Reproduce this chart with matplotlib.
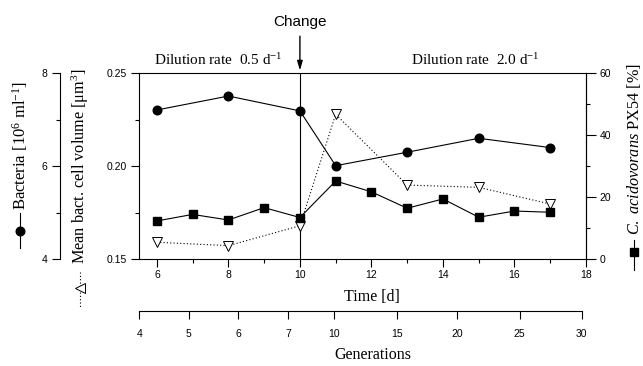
import matplotlib
matplotlib.use("Agg")
import matplotlib.pyplot as plt
from matplotlib.lines import Line2D
from matplotlib.ticker import MultipleLocator

# ---- data ----
time_bact = [6, 8, 10, 11, 13, 15, 17]
bacteria = [7.21, 7.51, 7.19, 6.01, 6.30, 6.60, 6.40]          # 10^6 ml^-1

time_vol = [6, 8, 10, 11, 13, 15, 17]
volume = [0.1590, 0.1572, 0.1679, 0.2279, 0.1898, 0.1886, 0.1796]  # um^3

time_px = [6, 7, 8, 9, 10, 11, 12, 13, 14, 15, 16, 17]
px54 = [12.3, 14.4, 12.6, 16.6, 13.4, 25.2, 21.7, 16.4, 19.4, 13.5, 15.5, 15.1]  # %

time_ticks = [6, 8, 10, 12, 14, 16, 18]
gen_labels = [4, 5, 6, 7, 10, 15, 20, 25, 30]
gen_tick_times = [5.505, 6.895, 8.274, 9.673, 10.951, 12.705, 14.392, 16.145, 17.880]

change_time = 10

SANS = "Liberation Sans"
SERIF = "Liberation Serif"
plt.rcParams["font.family"] = SANS
plt.rcParams["mathtext.fontset"] = "custom"
plt.rcParams["mathtext.rm"] = SERIF
plt.rcParams["mathtext.it"] = SERIF + ":italic"
plt.rcParams["axes.linewidth"] = 0.8

W, H = 643, 366
fig = plt.figure(figsize=(W / 100, H / 100), dpi=100)

L, R, T, B = 139, 586, 73.3, 259
ax = fig.add_axes([L / W, 1 - B / H, (R - L) / W, (B - T) / H])
ax.set_xlim(5.5, 18)
ax.set_ylim(0.15, 0.25)
ax.set_xticks(time_ticks)
ax.xaxis.set_minor_locator(MultipleLocator(1))
ax.set_yticks([0.15, 0.20, 0.25])
ax.set_yticklabels(["0.15", "0.20", "0.25"])
ax.yaxis.set_minor_locator(MultipleLocator(0.025))
ax.tick_params(which="major", direction="out", length=6, width=0.8, labelsize=7.5, pad=2)
ax.tick_params(which="minor", direction="out", length=3, width=0.8)
ax.tick_params(axis="y", which="major", pad=3)
ax.spines["right"].set_visible(True)

# bacteria axis (outer left)
ax_b = ax.twinx()
ax_b.set_ylim(4, 8)
ax_b.yaxis.set_ticks_position("left")
ax_b.yaxis.set_label_position("left")
ax_b.spines["left"].set_position(("outward", 79 * 0.72))
for s in ["right", "top", "bottom"]:
    ax_b.spines[s].set_visible(False)
ax_b.set_yticks([4, 6, 8])
ax_b.yaxis.set_minor_locator(MultipleLocator(1))
ax_b.tick_params(which="major", direction="out", length=6, width=0.8, labelsize=7.5, pad=3)
ax_b.tick_params(which="minor", direction="out", length=3, width=0.8)

# PX54 axis (right)
ax_r = ax.twinx()
ax_r.set_ylim(0, 60)
ax_r.set_yticks([0, 20, 40, 60])
ax_r.yaxis.set_minor_locator(MultipleLocator(10))
for s in ["left", "top", "bottom"]:
    ax_r.spines[s].set_visible(False)
ax_r.tick_params(which="major", direction="out", length=7, width=0.8, labelsize=7.5, pad=3)
ax_r.tick_params(which="minor", direction="out", length=3, width=0.8)

# data
ax_b.plot(time_bact, bacteria, color="black", lw=0.8, marker="o", ms=6.2,
          mfc="black", mec="black", zorder=5)
ax.plot(time_vol, volume, color="black", lw=0.8, ls=(0, (1, 2)), marker="v", ms=6.5,
        mfc="white", mec="black", mew=0.7, zorder=5)
ax_r.plot(time_px, px54, color="black", lw=0.8, marker="s", ms=5.2,
          mfc="black", mec="black", zorder=5)

# change line + arrow
ax.axvline(change_time, color="black", lw=0.8)
ax.annotate("", xy=(change_time, 1.015), xycoords=("data", "axes fraction"),
            xytext=(change_time, 1.20), textcoords=("data", "axes fraction"),
            arrowprops=dict(arrowstyle="-|>,head_length=0.55,head_width=0.16",
                            color="black", lw=1.0, shrinkA=0, shrinkB=0),
            annotation_clip=False)
ax.text(change_time, 1.275, "Change", transform=ax.get_xaxis_transform(),
        ha="center", va="center", fontsize=11, family=SANS)

ax.text(0.1767, 1.072, r"Dilution rate  0.5 d$^{\mathrm{-1}}$", transform=ax.transAxes,
        ha="center", va="center", fontsize=11, family=SERIF)
ax.text(0.752, 1.072, r"Dilution rate  2.0 d$^{\mathrm{-1}}$", transform=ax.transAxes,
        ha="center", va="center", fontsize=11, family=SERIF)

# Time label
ax.text((372 - L) / (R - L), (B - 297) / (B - T), "Time [d]", transform=ax.transAxes,
        ha="center", va="center", fontsize=11.5, family=SERIF)

# generations axis
sec = ax.secondary_xaxis((B - 311) / (B - T))
sec.set_xticks(gen_tick_times)
sec.set_xticklabels([str(g) for g in gen_labels])
sec.tick_params(direction="out", length=6, width=0.8, labelsize=7.5, pad=7)
sec.spines["bottom"].set_bounds(gen_tick_times[0], gen_tick_times[-1])
sec.spines["bottom"].set_linewidth(0.8)
ax.text((373 - L) / (R - L), (B - 355) / (B - T), "Generations", transform=ax.transAxes,
        ha="center", va="center", fontsize=11.5, family=SERIF)

# rotated axis labels with legend keys
fig.text(20 / W, 1 - 145.5 / H, r"Bacteria [10$^{6}$ ml$^{\mathrm{-1}}$]", rotation=90,
         ha="center", va="center", fontsize=12, family=SERIF)
fig.text(80 / W, 1 - 166.5 / H, r"Mean bact. cell volume [$\mathrm{\mu}$m$^{3}$]", rotation=90,
         ha="center", va="center", fontsize=11.7, family=SERIF)
fig.text(634 / W, 1 - 149 / H, r"$\mathit{C.\ acidovorans}$ PX54 [%]", rotation=90,
         ha="center", va="center", fontsize=11.7, family=SERIF)

def px(x, y):
    return x / W, 1 - y / H

x0, _ = px(20, 0)
fig.add_artist(Line2D([x0, x0], [px(0, 213)[1], px(0, 248)[1]], color="black", lw=0.8,
                      transform=fig.transFigure))
fig.add_artist(Line2D([x0], [px(0, 230.7)[1]], marker="o", ms=6.2, color="black",
                      transform=fig.transFigure))
x1, _ = px(80, 0)
fig.add_artist(Line2D([x1, x1], [px(0, 272)[1], px(0, 307)[1]], color="black", lw=0.8,
                      ls=(0, (1, 2)), transform=fig.transFigure))
fig.add_artist(Line2D([x1], [px(0, 288)[1]], marker="<", ms=6.5, mfc="white", mec="black",
                      mew=0.7, color="black", transform=fig.transFigure))
x2, _ = px(634, 0)
fig.add_artist(Line2D([x2, x2], [px(0, 240)[1], px(0, 270)[1]], color="black", lw=0.8,
                      transform=fig.transFigure))
fig.add_artist(Line2D([x2], [px(0, 252)[1]], marker="s", ms=5.2, color="black",
                      transform=fig.transFigure))

fig.savefig("out.png", dpi=100)
